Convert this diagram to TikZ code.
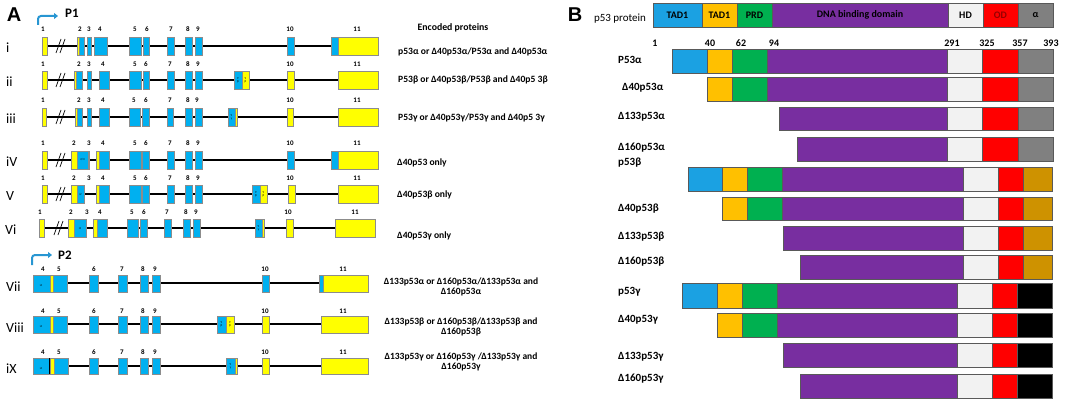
\documentclass[tikz,border=0pt]{standalone}
\usepackage{fontspec}
\setmainfont{Carlito}
\newfontfamily\panelfont{Liberation Sans}
\usetikzlibrary{arrows.meta}

\definecolor{exblue}{RGB}{0,176,240}
\definecolor{exyel}{RGB}{255,255,0}
\definecolor{tadblue}{RGB}{27,161,226}
\definecolor{tadyel}{RGB}{255,192,0}
\definecolor{prdgreen}{RGB}{0,176,80}
\definecolor{dbdpurple}{RGB}{120,46,160}
\definecolor{hdgrey}{RGB}{242,242,242}
\definecolor{ochre}{RGB}{206,146,0}
\definecolor{arrblue}{RGB}{40,150,210}
\definecolor{odtext}{RGB}{150,0,0}

\tikzset{
  exb/.style={draw=black!45, line width=0.5pt, fill=exblue},
  exy/.style={draw=black!45, line width=0.5pt, fill=exyel},
  intron/.style={line width=2.8pt},
  introntwo/.style={line width=2pt},
  brk/.style={line width=0.7pt},
  exnum/.style={font=\bfseries\fontsize{7}{8}\selectfont, inner sep=0pt},
  inlbl/.style={font=\fontsize{3}{3.2}\selectfont, inner sep=0pt, align=center},
  rowlbl/.style={font=\fontsize{14}{16}\selectfont, anchor=west, inner sep=0pt},
  enc/.style={font=\bfseries\fontsize{9.6}{11}\selectfont, anchor=west, inner sep=0pt},
  encc/.style={font=\bfseries\fontsize{9.5}{10.5}\selectfont, align=center, inner sep=0pt},
  dom/.style={draw=black!65, line width=0.6pt},
  domtxt/.style={font=\bfseries\fontsize{10}{12}\selectfont, inner sep=0pt},
  isoname/.style={font=\bfseries\fontsize{11}{13}\selectfont, anchor=west, inner sep=0pt},
  promo/.style={draw=arrblue, line width=2pt, rounded corners=3pt, -{Triangle[length=4pt,width=6pt]}},
  panel/.style={font=\panelfont\bfseries\fontsize{20}{22}\selectfont, inner sep=0pt},
}

\begin{document}
\begin{tikzpicture}[x=1pt,y=-1pt]
\useasboundingbox (0,0) rectangle (1065,401);

% ---- panel A
\draw (14,15) node[panel] (lblA) {A};
\draw[promo] (38,25) -- (38,16) -- (58,16);
\draw (72,13) node[font=\bfseries\fontsize{13}{14}\selectfont] (P1) {P1};
\draw (453,28) node[font=\bfseries\fontsize{9.8}{11}\selectfont] (enc) {Encoded proteins};

% i
\draw[intron] (44,46) -- (335,46);
\draw[brk] (56,53) -- (61,39) (60,53) -- (65,39);
\foreach \a/\b in {79/84,87/91,94/107,129/141,143/149,167/174,185/192,195/202,287/294,331/338}
  \draw[exb] (\a,37) rectangle (\b,55);
\foreach \a/\b in {42/47,77/79,338/378}
  \draw[exy] (\a,37) rectangle (\b,55);
\foreach \x/\n in {43/1,80/2,89/3,100/4,135/5,147/6,171/7,188/8,198/9,290/10,357/11}
  \draw (\x,29) node[exnum] (i-\n) {\n};
\draw (6,48) node[rowlbl] (r1) {i};
\draw (398,52) node[enc] (t1) {p53α or Δ40p53α/P53α and Δ40p53α};

% ii
\draw[intron] (44,80) -- (338,80);
\draw[brk] (56,87) -- (61,73) (60,87) -- (65,73);
\foreach \a/\b in {76/82,87/91,99/109,129/141,143/149,167/174,185/192,195/202,234/242}
  \draw[exb] (\a,71) rectangle (\b,89);
\foreach \a/\b in {42/47,74/76,242/249,287/294,338/378}
  \draw[exy] (\a,71) rectangle (\b,89);
\foreach \x/\n in {43/1,79/2,89/3,103/4,135/5,146/6,170/7,188/8,198/9,290/10,357/11}
  \draw (\x,64) node[exnum] (ii-\n) {\n};
\draw (238,80) node[inlbl] (ii-b1) {9\\β};
\draw (245.5,80) node[inlbl] (ii-b2) {9\\β};
\draw (6,82) node[rowlbl] (r2) {ii};
\draw (398,80) node[enc] (t2) {P53β or Δ40p53β/P53β and Δ40p5 3β};

% iii
\draw[intron] (44,117) -- (338,117);
\draw[brk] (56,124) -- (61,110) (60,124) -- (65,110);
\foreach \a/\b in {77/82,87/91,99/109,129/140,142/149,167/173,185/192,195/202,228/235}
  \draw[exb] (\a,108) rectangle (\b,126);
\foreach \a/\b in {42/46,75/77,235/237,287/293,338/378}
  \draw[exy] (\a,108) rectangle (\b,126);
\foreach \x/\n in {43/1,79/2,89/3,103/4,134/5,146/6,170/7,188/8,197/9,290/10,357/11}
  \draw (\x,100) node[exnum] (iii-\n) {\n};
\draw (231.5,117) node[inlbl] (iii-g) {9\\γ};
\draw (6,119) node[rowlbl] (r3) {iii};
\draw (398,118) node[enc] (t3) {P53γ or Δ40p53γ/P53γ and Δ40p5 3γ};

% iv
\draw[intron] (44,160) -- (335,160);
\draw[brk] (56,167) -- (61,153) (60,167) -- (65,153);
\foreach \a/\b in {77/88,99/109,129/141,142/149,167/174,185/192,195/202,287/294,331/338}
  \draw[exb] (\a,151) rectangle (\b,169);
\foreach \a/\b in {42/47,71/77,88/89,96/99,338/378}
  \draw[exy] (\a,151) rectangle (\b,169);
\foreach \x/\n in {43/1,74/2,89/3,103/4,135/5,146/6,170/7,188/8,198/9,290/10,357/11}
  \draw (\x,143) node[exnum] (iv-\n) {\n};
\draw (82.5,160) node[inlbl] (iv-i) {2/3};
\draw (6,162) node[rowlbl] (r4) {iV};
\draw (397,163) node[enc] (t4) {Δ40p53 only};

% v
\draw[intron] (44,194) -- (338,194);
\draw[brk] (56,201) -- (61,187) (60,201) -- (65,187);
\foreach \a/\b in {77/84,99/109,129/141,142/149,167/174,185/192,195/202,252/260}
  \draw[exb] (\a,185) rectangle (\b,203);
\foreach \a/\b in {42/47,71/77,96/99,260/267,288/295,338/378}
  \draw[exy] (\a,185) rectangle (\b,203);
\foreach \x/\n in {43/1,74/2,89/3,103/4,135/5,146/6,170/7,188/8,198/9,290/10,357/11}
  \draw (\x,178) node[exnum] (v-\n) {\n};
\draw (80.5,194) node[inlbl] (v-i) {i2};
\draw (256,194) node[inlbl] (v-b1) {9\\β};
\draw (263.5,194) node[inlbl] (v-b2) {9\\β};
\draw (6,196) node[rowlbl] (r5) {V};
\draw (397,195) node[enc] (t5) {Δ40p53β only};

% vi
\draw[intron] (41,228) -- (335,228);
\draw[brk] (54,235) -- (59,221) (58,235) -- (63,221);
\foreach \a/\b in {74/86,97/107,127/138,140/147,164/171,183/190,193/200,255/262}
  \draw[exb] (\a,219) rectangle (\b,237);
\foreach \a/\b in {39/44,68/74,93/97,262/264,286/293,335/375}
  \draw[exy] (\a,219) rectangle (\b,237);
\foreach \x/\n in {40/1,71/2,87/3,100/4,132/5,144/6,167/7,186/8,196/9,288/10,355/11}
  \draw (\x,212) node[exnum] (vi-\n) {\n};
\draw (80,228) node[inlbl] (vi-i) {i2};
\draw (258.5,228) node[inlbl] (vi-g) {9\\γ};
\draw (5,230) node[rowlbl] (r6) {Vi};
\draw (397,236) node[enc] (t6) {Δ40p53γ only};

% P2 rows
\draw[promo] (32,265) -- (32,255) -- (52,255);
\draw (65,255) node[font=\bfseries\fontsize{13}{14}\selectfont] (P2) {P2};

% vii
\draw[introntwo] (60,283) -- (321,283);
\foreach \a/\b in {33/50,53/67,89/98,118/127,140/148,152/160,262/269,319/323}
  \draw[exb] (\a,275) rectangle (\b,292);
\foreach \a/\b in {50/53,323/368}
  \draw[exy] (\a,275) rectangle (\b,292);
\foreach \x/\n in {43/4,59/5,94/6,122/7,143/8,155/9,265/10,343/11}
  \draw (\x,269) node[exnum] (vii-\n) {\n};
\draw (41,285) node[inlbl] (vii-i) {i4};
\draw (6,287) node[rowlbl] (r7) {Vii};
\draw (461,287) node[encc] (t7) {Δ133p53α or Δ160p53α/Δ133p53α and\\Δ160p53α};

% viii
\draw[introntwo] (60,324) -- (321,324);
\foreach \a/\b in {33/50,53/67,89/98,118/127,140/148,152/160,217/226}
  \draw[exb] (\a,316) rectangle (\b,333);
\foreach \a/\b in {50/53,226/234,262/269,321/368}
  \draw[exy] (\a,316) rectangle (\b,333);
\foreach \x/\n in {43/4,59/5,94/6,122/7,143/8,155/9,265/10,343/11}
  \draw (\x,311) node[exnum] (viii-\n) {\n};
\draw (41,326) node[inlbl] (viii-i) {i4};
\draw (221.5,324) node[inlbl] (viii-b1) {9\\β};
\draw (230,324) node[inlbl] (viii-b2) {9\\β};
\draw (6,328) node[rowlbl] (r8) {Viii};
\draw (461,327) node[encc] (t8) {Δ133p53β or Δ160p53β/Δ133p53β and\\Δ160p53β};

% ix
\draw[introntwo] (60,366) -- (321,366);
\foreach \a/\b in {33/49,54/68,89/98,118/127,140/148,152/160,226/235}
  \draw[exb] (\a,358) rectangle (\b,374);
\foreach \a/\b in {50/54,235/237,262/269,321/368}
  \draw[exy] (\a,358) rectangle (\b,374);
\draw[line width=1pt] (49.5,358) -- (49.5,374);
\foreach \x/\n in {43/4,59/5,94/6,122/7,143/8,155/9,265/10,343/11}
  \draw (\x,352) node[exnum] (ix-\n) {\n};
\draw (41,368) node[inlbl] (ix-i) {i4};
\draw (230.5,366) node[inlbl] (ix-g) {9\\γ};
\draw (6,369) node[rowlbl] (r9) {iX};
\draw (461,362) node[encc] (t9) {Δ133p53γ or Δ160p53γ /Δ133p53γ and\\Δ160p53γ};

% ---- panel B
\draw (575,15) node[panel] (lblB) {B};
\draw (620,19) node[font=\fontsize{11}{13}\selectfont] (hdr) {p53 protein};
\foreach \a/\b/\c/\t/\k in {653/702/tadblue/TAD1/black,702/737/tadyel/TAD1/black,737/772/prdgreen/PRD/black,772/948/dbdpurple/DNA binding domain/black,948/983/hdgrey/HD/black,983/1018/red/OD/odtext,1018/1053/gray/α/black}
  {\draw[dom,fill=\c] (\a,3) rectangle (\b,27);
   \draw ({(\a+\b)/2},15) node[domtxt,text=\k] {\t};}
\foreach \x/\n in {655/1,710/40,741/62,774/94,952/291,987/325,1020/357,1051/393}
  \draw (\x,43) node[domtxt] (aa-\n) {\n};

% alpha
\foreach \a/\b/\c in {672/707/tadblue,707/732/tadyel,732/767/prdgreen,767/947/dbdpurple,947/982/hdgrey,982/1018/red,1018/1053/gray}
  \draw[dom,fill=\c] (\a,49) rectangle (\b,73);
\foreach \a/\b/\c in {707/732/tadyel,732/767/prdgreen,767/947/dbdpurple,947/982/hdgrey,982/1018/red,1018/1053/gray}
  \draw[dom,fill=\c] (\a,77) rectangle (\b,101);
\foreach \a/\b/\c in {779/947/dbdpurple,947/982/hdgrey,982/1018/red,1018/1053/gray}
  \draw[dom,fill=\c] (\a,107) rectangle (\b,130);
\foreach \a/\b/\c in {797/947/dbdpurple,947/982/hdgrey,982/1018/red,1018/1053/gray}
  \draw[dom,fill=\c] (\a,137) rectangle (\b,161);
% beta
\foreach \a/\b/\c in {688/722/tadblue,722/747/tadyel,747/782/prdgreen,782/963/dbdpurple,963/998/hdgrey,998/1023/red,1023/1052/ochre}
  \draw[dom,fill=\c] (\a,167) rectangle (\b,191);
\foreach \a/\b/\c in {722/747/tadyel,747/782/prdgreen,782/963/dbdpurple,963/998/hdgrey,998/1023/red,1023/1052/ochre}
  \draw[dom,fill=\c] (\a,197) rectangle (\b,220);
\foreach \a/\b/\c in {783/963/dbdpurple,963/998/hdgrey,998/1023/red,1023/1052/ochre}
  \draw[dom,fill=\c] (\a,226) rectangle (\b,250);
\foreach \a/\b/\c in {800/963/dbdpurple,963/998/hdgrey,998/1023/red,1023/1052/ochre}
  \draw[dom,fill=\c] (\a,255) rectangle (\b,279);
% gamma
\foreach \a/\b/\c in {682/717/tadblue,717/742/tadyel,742/777/prdgreen,777/957/dbdpurple,957/992/hdgrey,992/1017/red,1017/1052/black}
  \draw[dom,fill=\c] (\a,283) rectangle (\b,308);
\foreach \a/\b/\c in {717/742/tadyel,742/777/prdgreen,777/957/dbdpurple,957/992/hdgrey,992/1017/red,1017/1052/black}
  \draw[dom,fill=\c] (\a,313) rectangle (\b,337);
\foreach \a/\b/\c in {783/957/dbdpurple,957/992/hdgrey,992/1017/red,1017/1052/black}
  \draw[dom,fill=\c] (\a,343) rectangle (\b,367);
\foreach \a/\b/\c in {800/957/dbdpurple,957/992/hdgrey,992/1017/red,1017/1052/black}
  \draw[dom,fill=\c] (\a,374) rectangle (\b,398);

\foreach \y/\n/\t in {60/a1/P53α,117/a3/Δ133p53α,148/a4/Δ160p53α,163/b1/p53β,209/b2/Δ40p53β,237/b3/Δ133p53β,262/b4/Δ160p53β,292/g1/p53γ,320/g2/Δ40p53γ,357/g3/Δ133p53γ,379/g4/Δ160p53γ}
  \draw (618,\y) node[isoname] (iso-\n) {\t};
\draw (622,88) node[isoname] (iso-a2) {Δ40p53α};
\end{tikzpicture}
\end{document}
